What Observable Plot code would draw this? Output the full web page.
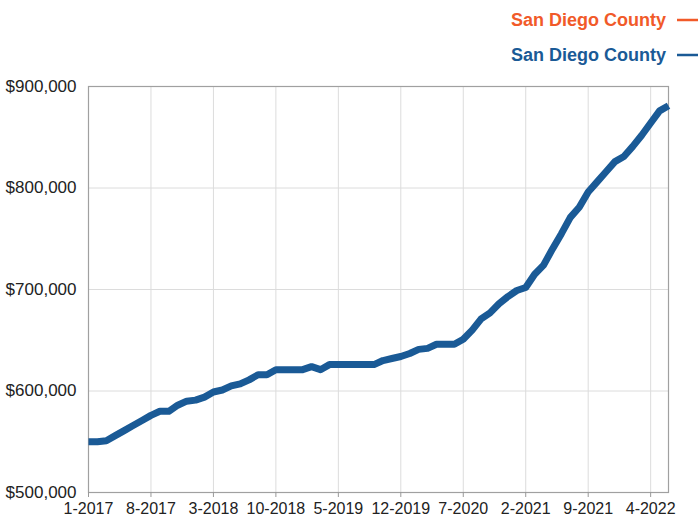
<!DOCTYPE html>
<html>
<head>
<meta charset="utf-8">
<script src="https://cdn.jsdelivr.net/npm/d3@7"></script>
<script src="https://cdn.jsdelivr.net/npm/@observablehq/plot@0.6"></script>
<style>
  html, body { margin: 0; padding: 0; background: #fff; }
  body { width: 698px; height: 520px; overflow: hidden; font-family: "Liberation Sans", Arial, Helvetica, sans-serif; }
  #legend { display: block; }
</style>
</head>
<body>
<svg id="legend" width="698" height="70"></svg>
<div id="chart"></div>
<script>
const months = [
  "1-2017","2-2017","3-2017","4-2017","5-2017","6-2017","7-2017","8-2017","9-2017","10-2017","11-2017","12-2017",
  "1-2018","2-2018","3-2018","4-2018","5-2018","6-2018","7-2018","8-2018","9-2018","10-2018","11-2018","12-2018",
  "1-2019","2-2019","3-2019","4-2019","5-2019","6-2019","7-2019","8-2019","9-2019","10-2019","11-2019","12-2019",
  "1-2020","2-2020","3-2020","4-2020","5-2020","6-2020","7-2020","8-2020","9-2020","10-2020","11-2020","12-2020",
  "1-2021","2-2021","3-2021","4-2021","5-2021","6-2021","7-2021","8-2021","9-2021","10-2021","11-2021","12-2021",
  "1-2022","2-2022","3-2022","4-2022","5-2022","6-2022"
];
const medianPrice = [
  550000,550000,551000,556000,561000,566000,571000,576000,580000,580000,586000,590000,
  591000,594000,599000,601000,605000,607000,611000,616000,616000,621000,621000,621000,
  621000,624000,621000,626000,626000,626000,626000,626000,626000,630000,632000,634000,
  637000,641000,642000,646000,646000,646000,651000,660000,671000,677000,686000,693000,
  699000,702000,715000,724000,740000,755000,771000,781000,796000,806000,816000,826000,
  831000,841000,852000,864000,876000,881000
];
const xTickLabels = ["1-2017","8-2017","3-2018","10-2018","5-2019","12-2019","7-2020","2-2021","9-2021","4-2022"];
const yTickValues = [500000,600000,700000,800000,900000];
const legendLabels = ["San Diego County","San Diego County"];
const legendColors = ["#f15a29","#1a5a96"];

const data = months.map((m, i) => ({month: m, value: medianPrice[i]}));

// legend
const lg = d3.select("#legend");
legendLabels.forEach((lab, i) => {
  const y = i === 0 ? 26 : 61;
  lg.append("text")
    .attr("x", 666).attr("y", y)
    .attr("text-anchor", "end")
    .attr("font-family", "'Liberation Sans', Arial, sans-serif")
    .attr("font-weight", "bold")
    .attr("font-size", 18)
    .attr("fill", legendColors[i])
    .text(lab);
  lg.append("line")
    .attr("x1", 677).attr("x2", 698)
    .attr("y1", y - 6).attr("y2", y - 6)
    .attr("stroke", legendColors[i]).attr("stroke-width", 2.5);
});

const chart = Plot.plot({
  width: 698,
  height: 450,
  marginTop: 16,
  marginBottom: 28,
  marginLeft: 88,
  marginRight: 30,
  style: {fontSize: "16px", fontFamily: "'Liberation Sans', Arial, Helvetica, sans-serif", color: "#222", background: "#fff"},
  x: {type: "point", domain: months, padding: 0, label: null},
  y: {domain: [500000, 900000], label: null},
  marks: [
    Plot.gridX(xTickLabels, {stroke: "#dcdcdc", strokeOpacity: 1}),
    Plot.gridY(yTickValues, {stroke: "#dcdcdc", strokeOpacity: 1}),
    Plot.frame({stroke: "#a0a0a0", strokeWidth: 1.2}),
    Plot.axisX(xTickLabels, {tickSize: 5, tickPadding: 5, stroke: "#999", fill: "#222", fontSize: 16}),
    Plot.axisY(yTickValues, {tickSize: 0, tickPadding: 12, tickFormat: d3.format("$,"), fill: "#222", fontSize: 17}),
    Plot.line(data, {x: "month", y: "value", stroke: "#1a5a96", strokeWidth: 7, strokeLinejoin: "round", strokeLinecap: "butt"})
  ]
});
document.getElementById("chart").appendChild(chart);
</script>
</body>
</html>
